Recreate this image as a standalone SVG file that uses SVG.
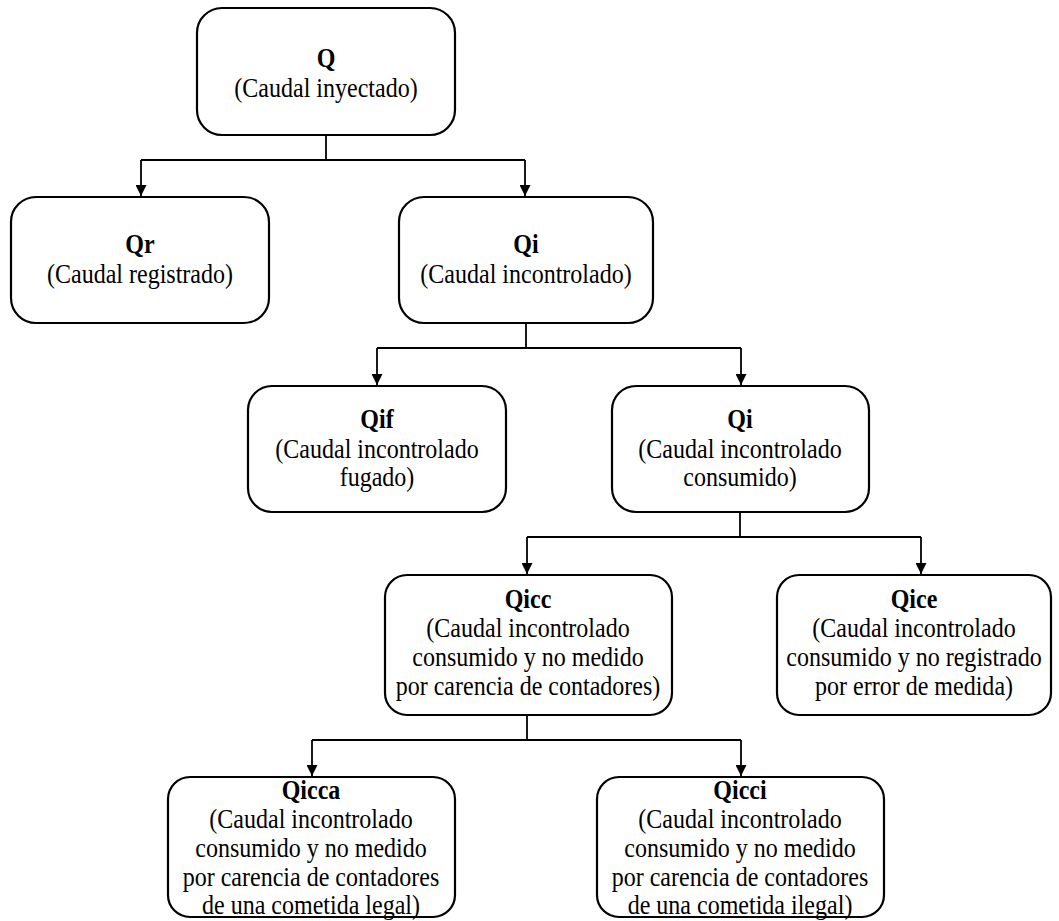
<svg xmlns="http://www.w3.org/2000/svg" width="1059" height="921" viewBox="0 0 1059 921">
<style>
.box{fill:#fff;stroke:#000;stroke-width:2.2}
.t{font-family:'Liberation Serif','Times New Roman',serif;font-size:27px;fill:#000;text-anchor:middle}
.b{font-weight:bold}
.ln{fill:none;stroke:#000;stroke-width:1.8}
</style>
<defs>
<marker id="ah" viewBox="0 0 10 10" refX="10" refY="5" markerWidth="12" markerHeight="11" markerUnits="userSpaceOnUse" orient="auto">
<path d="M0,0 L10,5 L0,10 Z" fill="#000"/>
</marker>
</defs>
<rect width="1059" height="921" fill="#fff"/>
<g id="connectors">
<path class="ln" d="M326,135 V160"/>
<path class="ln" d="M141,160 H525"/>
<path class="ln" d="M141,160 V196" marker-end="url(#ah)"/>
<path class="ln" d="M525,160 V196" marker-end="url(#ah)"/>
<path class="ln" d="M526,323 V348"/>
<path class="ln" d="M377,348 H741"/>
<path class="ln" d="M377,348 V385" marker-end="url(#ah)"/>
<path class="ln" d="M741,348 V385" marker-end="url(#ah)"/>
<path class="ln" d="M740,512 V537"/>
<path class="ln" d="M527,537 H921"/>
<path class="ln" d="M527,537 V574" marker-end="url(#ah)"/>
<path class="ln" d="M921,537 V574" marker-end="url(#ah)"/>
<path class="ln" d="M527,715 V740"/>
<path class="ln" d="M312,740 H741"/>
<path class="ln" d="M312,740 V776" marker-end="url(#ah)"/>
<path class="ln" d="M741,740 V776" marker-end="url(#ah)"/>
</g>
<g id="Q">
<rect class="box" x="197" y="8" width="258" height="127" rx="25"/>
<g transform="translate(326,0) scale(0.89,1)">
<text class="t b" x="0" y="67">Q</text>
<text class="t" x="0" y="97">(Caudal inyectado)</text>
</g>
</g>
<g id="Qr">
<rect class="box" x="11" y="197" width="258" height="126" rx="25"/>
<g transform="translate(140,0) scale(0.89,1)">
<text class="t b" x="0" y="253">Qr</text>
<text class="t" x="0" y="283">(Caudal registrado)</text>
</g>
</g>
<g id="Qi">
<rect class="box" x="399" y="197" width="254" height="126" rx="25"/>
<g transform="translate(526,0) scale(0.89,1)">
<text class="t b" x="0" y="253">Qi</text>
<text class="t" x="0" y="283">(Caudal incontrolado)</text>
</g>
</g>
<g id="Qif">
<rect class="box" x="248" y="386" width="258" height="126" rx="24"/>
<g transform="translate(377,0) scale(0.89,1)">
<text class="t b" x="0" y="428">Qif</text>
<text class="t" x="0" y="458">(Caudal incontrolado</text>
<text class="t" x="0" y="486">fugado)</text>
</g>
</g>
<g id="Qi2">
<rect class="box" x="612" y="386" width="257" height="126" rx="24"/>
<g transform="translate(740,0) scale(0.89,1)">
<text class="t b" x="0" y="428">Qi</text>
<text class="t" x="0" y="458">(Caudal incontrolado</text>
<text class="t" x="0" y="486">consumido)</text>
</g>
</g>
<g id="Qicc">
<rect class="box" x="385" y="575" width="287" height="140" rx="22"/>
<g transform="translate(528,0) scale(0.89,1)">
<text class="t b" x="0" y="608">Qicc</text>
<text class="t" x="0" y="637">(Caudal incontrolado</text>
<text class="t" x="0" y="666">consumido y no medido</text>
<text class="t" x="0" y="695">por carencia de contadores)</text>
</g>
</g>
<g id="Qice">
<rect class="box" x="777" y="575" width="274" height="140" rx="22"/>
<g transform="translate(914,0) scale(0.89,1)">
<text class="t b" x="0" y="608">Qice</text>
<text class="t" x="0" y="637">(Caudal incontrolado</text>
<text class="t" x="0" y="666">consumido y no registrado</text>
<text class="t" x="0" y="695">por error de medida)</text>
</g>
</g>
<g id="Qicca">
<rect class="box" x="168" y="777" width="287" height="140" rx="22"/>
<g transform="translate(311,0) scale(0.89,1)">
<text class="t b" x="0" y="799">Qicca</text>
<text class="t" x="0" y="828">(Caudal incontrolado</text>
<text class="t" x="0" y="857">consumido y no medido</text>
<text class="t" x="0" y="886">por carencia de contadores</text>
<text class="t" x="0" y="914">de una cometida legal)</text>
</g>
</g>
<g id="Qicci">
<rect class="box" x="597" y="777" width="287" height="140" rx="22"/>
<g transform="translate(740,0) scale(0.89,1)">
<text class="t b" x="0" y="799">Qicci</text>
<text class="t" x="0" y="828">(Caudal incontrolado</text>
<text class="t" x="0" y="857">consumido y no medido</text>
<text class="t" x="0" y="886">por carencia de contadores</text>
<text class="t" x="0" y="914">de una cometida ilegal)</text>
</g>
</g>
</svg>
